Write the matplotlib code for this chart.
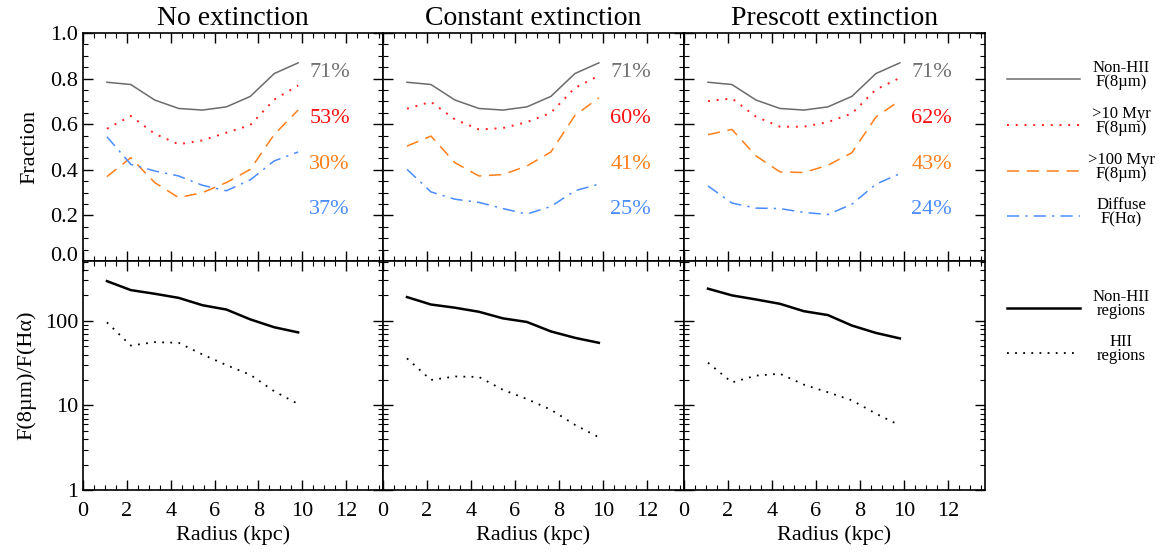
import numpy as np
import matplotlib
matplotlib.use("Agg")
from matplotlib import pyplot as plt
from matplotlib import transforms
from matplotlib.ticker import MultipleLocator, LogLocator, NullFormatter, FixedLocator

plt.rcParams['font.family'] = ['Liberation Serif', 'DejaVu Serif']

radius = np.array([1.09, 2.18, 3.27, 4.36, 5.45, 6.54, 7.63, 8.72, 9.81])

titles = ["No extinction", "Constant extinction", "Prescott extinction"]

# fraction curves (top row), one list per panel
nonhii_frac = [0.784, 0.774, 0.706, 0.669, 0.662, 0.676, 0.722, 0.822, 0.869]
myr10_frac = [[0.580, 0.636, 0.558, 0.512, 0.529, 0.563, 0.596, 0.708, 0.770],
              [0.668, 0.698, 0.621, 0.577, 0.583, 0.609, 0.650, 0.759, 0.813],
              [0.701, 0.713, 0.633, 0.589, 0.589, 0.609, 0.647, 0.752, 0.803]]
myr100_frac = [[0.370, 0.453, 0.344, 0.278, 0.300, 0.344, 0.402, 0.555, 0.662],
               [0.504, 0.548, 0.431, 0.373, 0.379, 0.417, 0.478, 0.638, 0.716],
               [0.554, 0.577, 0.461, 0.391, 0.388, 0.420, 0.475, 0.631, 0.704]]
diffuse_frac = [[0.545, 0.424, 0.395, 0.373, 0.332, 0.308, 0.356, 0.439, 0.478],
                [0.402, 0.303, 0.271, 0.257, 0.230, 0.206, 0.239, 0.308, 0.337],
                [0.329, 0.254, 0.232, 0.230, 0.213, 0.204, 0.249, 0.337, 0.383]]
percent_labels = [["71%", "53%", "30%", "37%"],
                  ["71%", "60%", "41%", "25%"],
                  ["71%", "62%", "43%", "24%"]]

# 8um / Halpha ratio (bottom row)
nonhii_ratio = [[295, 231, 209, 187, 153, 136, 104, 84, 73],
                [191, 156, 143, 128, 107, 97, 75, 63, 55],
                [240, 200, 179, 159, 130, 117, 88, 72, 62]]
hii_ratio = [[96, 51, 56, 55, 40, 30, 23, 14.7, 10.4],
             [36, 20, 22, 21.7, 15.3, 11.9, 8.9, 5.9, 4.2],
             [32, 18.7, 22.5, 23.7, 17.6, 14.3, 11.5, 8.0, 5.8]]

c_gray = '#6b6b6b'
c_red = '#ff2020'
c_orange = '#ff7f1a'
c_blue = '#4a8cff'
pct_colors = ['#707070', '#ff1010', '#ff7f1a', '#4a8cff']
pct_y = [0.825, 0.625, 0.425, 0.225]

W, H = 1163, 554
fig = plt.figure(figsize=(W / 100, H / 100), dpi=100)

def px_axes(x0, y0, x1, y1):
    return fig.add_axes([x0 / W, 1 - y1 / H, (x1 - x0) / W, (y1 - y0) / H])

def style(ax):
    ax.tick_params(which='both', direction='in', top=True, right=True, labelsize=16)
    ax.tick_params(which='major', length=7, width=1)
    ax.tick_params(which='minor', length=3.5, width=0.8)
    for s in ax.spines.values():
        s.set_linewidth(1.2)

XMAX = 13.68
lefts = [83, 383, 684, 985]
for i in range(3):
    x0, x1 = lefts[i], lefts[i + 1]
    ax = px_axes(x0, 33, x1, 261)
    ax.plot(radius, nonhii_frac, color=c_gray, lw=1.1)
    ax.plot(radius, myr10_frac[i], color=c_red, lw=1.4, ls=(0, (1, 3.5)))
    ax.plot(radius, myr100_frac[i], color=c_orange, lw=1.1, ls=(0, (8, 5)))
    ax.plot(radius, diffuse_frac[i], color=c_blue, lw=1.1, ls=(0, (8, 4, 1.5, 4)))
    for lab, yy, cc in zip(percent_labels[i], pct_y, pct_colors):
        ax.text(11.25, yy, lab, color=cc, fontsize=16, ha='center', va='center')
    ax.set_xlim(0, XMAX)
    ax.set_ylim(0, 1.0)
    ax.xaxis.set_major_locator(MultipleLocator(2))
    ax.xaxis.set_minor_locator(MultipleLocator(0.5))
    ax.yaxis.set_major_locator(MultipleLocator(0.2))
    ax.yaxis.set_minor_locator(MultipleLocator(0.05))
    ax.set_xticklabels([])
    ax.set_title(titles[i], fontsize=20, pad=6)
    style(ax)
    if i == 0:
        ax.set_ylabel("Fraction", fontsize=16, labelpad=8)
        ax.set_yticks([0, 0.2, 0.4, 0.6, 0.8, 1.0])
        ax.set_yticklabels(["0.0", "0.2", "0.4", "0.6", "0.8", "1.0"])
        # lift the bottom label a little off the shared border
        lbl0 = ax.get_yticklabels()[0]
        lbl0.set_transform(lbl0.get_transform() +
                           transforms.ScaledTranslation(0, 7 / 100, fig.dpi_scale_trans))
    else:
        ax.set_yticklabels([])

    bx = px_axes(x0, 261, x1, 490)
    bx.plot(radius, nonhii_ratio[i], color='black', lw=1.8)
    bx.plot(radius, hii_ratio[i], color='black', lw=1.3, ls=(0, (1, 3.5)))
    bx.set_yscale('log')
    bx.set_xlim(0, XMAX)
    bx.set_ylim(1, 510)
    bx.xaxis.set_minor_locator(MultipleLocator(0.5))
    bx.yaxis.set_major_locator(FixedLocator([1, 10, 100]))
    bx.yaxis.set_minor_locator(LogLocator(base=10, subs=np.arange(2, 10)))
    bx.yaxis.set_minor_formatter(NullFormatter())
    bx.set_xticks([0, 2, 4, 6, 8, 10, 12])
    bx.set_xticklabels(["0", "2", "4", "6", "8", "10", "12"])
    bx.set_xlabel("Radius (kpc)", fontsize=16, labelpad=3)
    style(bx)
    bx.tick_params(axis='x', pad=9)
    if i == 0:
        bx.set_yticklabels(["1", "10", "100"])
        bx.set_ylabel("F(8µm)/F(Hα)", fontsize=16, labelpad=6)
    else:
        bx.set_yticklabels([])

# legend panel on the right
lg = px_axes(995, 33, W, 490)
lg.set_xlim(995, W)
lg.set_ylim(490, 33)
lg.axis('off')
leg_items = [("Non-HII\nF(8µm)", 79, c_gray, '-', 1.1),
             (">10 Myr\nF(8µm)", 125, c_red, (0, (1, 3.5)), 1.4),
             (">100 Myr\nF(8µm)", 171, c_orange, (0, (8, 5)), 1.1),
             ("Diffuse\nF(Hα)", 216, c_blue, (0, (8, 4, 1.5, 4)), 1.1),
             ("Non-HII\nregions", 308, 'black', '-', 1.8),
             ("HII\nregions", 353, 'black', (0, (1, 3.5)), 1.3)]
for lab, yy, cc, ls, lw in leg_items:
    lg.plot([1007, 1080], [yy, yy], color=cc, ls=ls, lw=lw)
    lg.text(1121, yy - 4, lab, fontsize=12, ha='center', va='center',
            multialignment='center', linespacing=0.85)

fig.savefig("out.png", dpi=100)
